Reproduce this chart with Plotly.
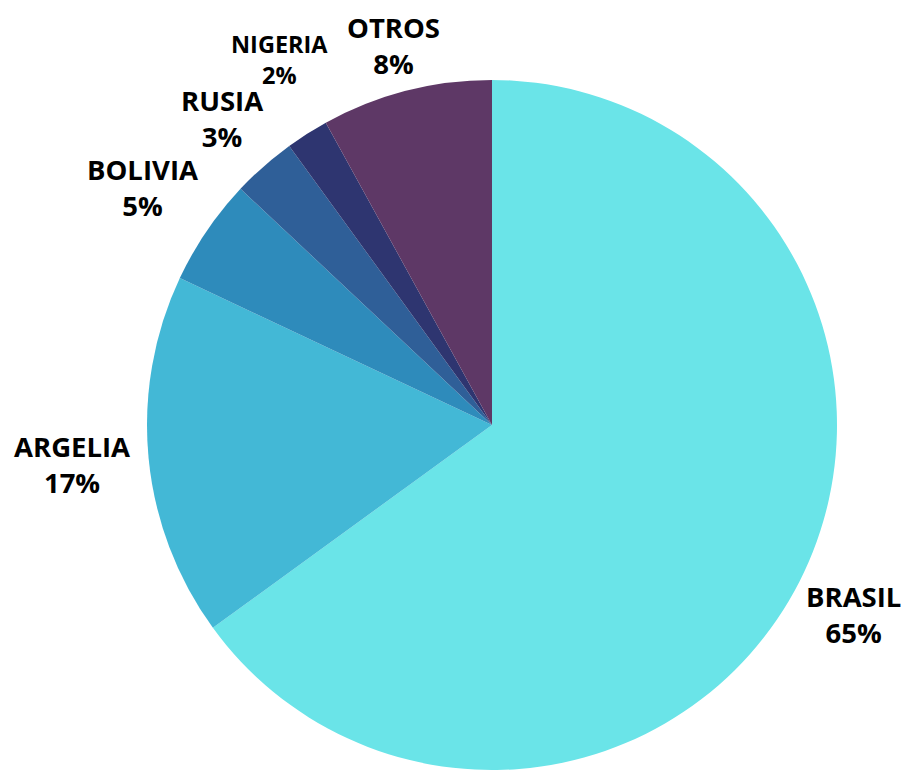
import math
import plotly.graph_objects as go

labels = ["BRASIL", "ARGELIA", "BOLIVIA", "RUSIA", "NIGERIA", "OTROS"]
values = [65, 17, 5, 3, 2, 8]
colors = ["#6AE4E8", "#43B8D6", "#2E8BBB", "#2F5F98", "#2E3570", "#5E3866"]
label_sizes = [27.5, 27.5, 27.5, 27.5, 23.5, 27.5]

W, H = 896, 762
ML, MR, MT, MB = 139, 67, 72, 0
PW, PH = W - ML - MR, H - MT - MB
R = min(PW, PH) / 2
CX, CY = ML + PW / 2, MT + PH / 2

FONT = "Open Sans"
CHAR_EM = {"A": .70, "B": .66, "E": .55, "G": .71, "I": .34, "L": .55, "N": .77,
           "O": .77, "R": .66, "S": .56, "T": .58, "U": .71, "V": .66, "%": .85}


def text_w(s, size):
    return sum(CHAR_EM.get(c, .57) for c in s) * size


def to_paper(px, py):
    return (px - ML) / PW, (MT + PH - py) / PH


total = sum(values)
GAP = 19
placed = []
annotations = []
cum = 0
for lab, v, fs in zip(labels, values, label_sizes):
    mid = (cum + v / 2) / total * 2 * math.pi
    cum += v
    pct = f"{round(v / total * 100)}%"
    ux, uy = math.sin(mid), -math.cos(mid)
    hw = max(text_w(lab, fs), text_w(pct, fs)) / 2
    hh = 1.2 * fs
    ex = hw / abs(ux) if abs(ux) > 1e-9 else float("inf")
    ey = hh / abs(uy) if abs(uy) > 1e-9 else float("inf")
    D = R + GAP + min(ex, ey)
    px, py = CX + D * ux, CY + D * uy
    th = 1.0 * fs
    moved = True
    while moved:
        moved = False
        for (ox0, ox1, oy0, oy1) in placed:
            if px + hw > ox0 and px - hw < ox1 and py + th + 8 > oy0 and py - th - 8 < oy1:
                py = (oy0 - 8 - th) if uy < 0 else (oy1 + 8 + th)
                moved = True
    # keep each label fully inside the figure
    px = min(max(px, hw + 3), W - hw - 3)
    py = min(max(py, 1.3 * fs + 2), H - 1.3 * fs - 2)
    placed.append((px - hw, px + hw, py - th, py + th))
    ax, ay = to_paper(px, py)
    annotations.append(dict(
        x=ax, y=ay, xref="paper", yref="paper", text=f"<b>{lab}</b><br><b>{pct}</b>",
        showarrow=False, xanchor="center", yanchor="middle", align="center",
        borderpad=0, font=dict(family=FONT, size=fs, color="#000000"),
    ))

fig = go.Figure(go.Pie(
    labels=labels,
    values=values,
    sort=False,
    direction="clockwise",
    rotation=0,
    marker=dict(colors=colors, line=dict(width=0)),
    textinfo="none",
    showlegend=False,
    hoverinfo="label+percent",
))

fig.update_layout(
    width=W,
    height=H,
    margin=dict(l=ML, r=MR, t=MT, b=MB, autoexpand=False),
    paper_bgcolor="white",
    plot_bgcolor="white",
    annotations=annotations,
)

fig.write_html("out.html")
